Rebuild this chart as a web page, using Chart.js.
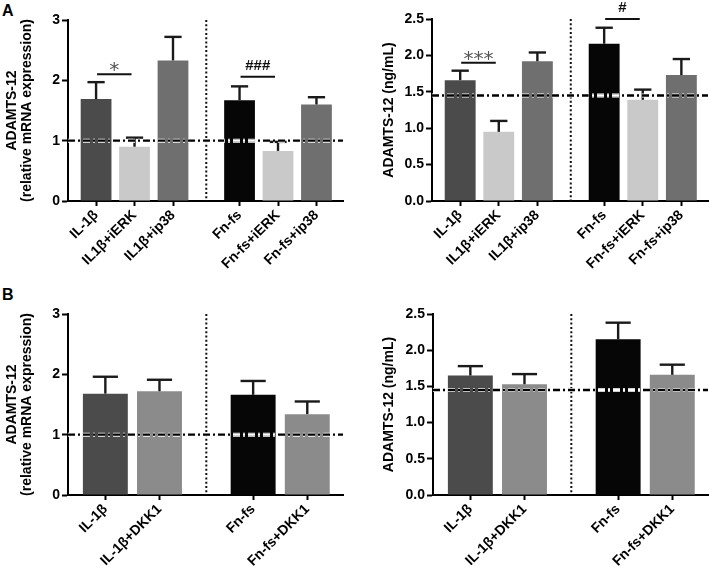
<!DOCTYPE html>
<html>
<head>
<meta charset="utf-8">
<script src="https://cdn.jsdelivr.net/npm/chart.js@4"></script>
<style>
  body { margin: 0; background: #fff; }
  #wrap { position: relative; width: 709px; height: 568px; font-family: 'Liberation Sans', Arial, sans-serif; }
  .panel { position: absolute; }
  .tag { position: absolute; font-weight: bold; font-size: 16px; line-height: 1; }
</style>
</head>
<body>
<div id="wrap">
  <div class="tag" style="left:2px;top:3px">A</div>
  <div class="tag" style="left:2px;top:287px">B</div>
  <canvas id="aMrna" class="panel" style="left:0;top:0" width="350" height="290"></canvas>
  <canvas id="aProtein" class="panel" style="left:350px;top:0" width="359" height="290"></canvas>
  <canvas id="bMrna" class="panel" style="left:0;top:285px" width="350" height="283"></canvas>
  <canvas id="bProtein" class="panel" style="left:350px;top:285px" width="359" height="283"></canvas>
</div>
<script>
// --- data ---
const labelsA = ["IL-1β", "IL1β+iERK", "IL1β+ip38", "Fn-fs", "Fn-fs+iERK", "Fn-fs+ip38"];
const mrnaA = [1.69, 0.90, 2.33, 1.67, 0.83, 1.60];
const mrnaSemA = [0.28, 0.15, 0.39, 0.23, 0.15, 0.12];
const proteinA = [1.66, 0.95, 1.92, 2.16, 1.39, 1.73];
const proteinSemA = [0.13, 0.15, 0.12, 0.22, 0.14, 0.22];

const labelsB = ["IL-1β", "IL-1β+DKK1", "Fn-fs", "Fn-fs+DKK1"];
const mrnaB = [1.68, 1.72, 1.66, 1.34];
const mrnaSemB = [0.28, 0.19, 0.23, 0.21];
const proteinB = [1.65, 1.53, 2.15, 1.66];
const proteinSemB = [0.13, 0.14, 0.23, 0.14];

const mrnaBaseline = 1;
const proteinBaseline = 1.45;

const sigMrnaA = [
  { from: 0, to: 1, y: 2.1, text: "*" },
  { from: 3, to: 4, y: 2.06, text: "###" }
];
const sigProteinA = [
  { from: 0, to: 1, y: 1.9, text: "***" },
  { from: 3, to: 4, y: 2.5, text: "#" }
];

// --- look ---
const DARK = "#4b4b4b", LIGHT = "#c9c9c9", MID = "#6f6f6f", BLACK = "#060606", DKK = "#8b8b8b";
const colorsA = [DARK, LIGHT, MID, BLACK, LIGHT, MID];
const colorsB = [DARK, DKK, BLACK, DKK];
const GROUP_GAP = 0.73;
const FONT = "'Liberation Sans', Arial, sans-serif";
const DASH_DOT = [7, 3, 2, 3];

Chart.defaults.font.family = FONT;
Chart.defaults.color = "#000";

function line(ctx, x1, y1, x2, y2) {
  ctx.beginPath();
  ctx.moveTo(x1, y1);
  ctx.lineTo(x2, y2);
  ctx.stroke();
}

// error bars, reference line, group divider and significance marks
const extras = {
  id: "extras",
  afterDatasetsDraw(chart, args, o) {
    const { ctx, chartArea: a, scales: { x, y } } = chart;
    const bars = chart.getDatasetMeta(0).data;
    ctx.save();
    ctx.lineCap = "butt";

    // dotted divider between the two groups
    const dx = x.getPixelForValue(o.divider);
    ctx.strokeStyle = "#111";
    ctx.lineWidth = 2;
    ctx.setLineDash([2, 2.3]);
    line(ctx, dx, a.top, dx, a.bottom);

    // upper error bars
    ctx.setLineDash([]);
    ctx.strokeStyle = "#1a1a1a";
    ctx.lineWidth = 2.4;
    bars.forEach((b, i) => {
      const top = y.getPixelForValue(o.values[i] + o.sem[i]);
      const half = b.width * 0.28;
      line(ctx, b.x, b.y, b.x, top);
      line(ctx, b.x - half, top, b.x + half, top);
    });

    // dash-dot reference line (white where it crosses the black bars)
    const by = y.getPixelForValue(o.baseline);
    ctx.setLineDash(DASH_DOT);
    ctx.strokeStyle = "#fff";
    ctx.lineWidth = 4;
    line(ctx, a.left, by, a.right, by);
    ctx.strokeStyle = "#000";
    ctx.lineWidth = 2.4;
    line(ctx, a.left, by, a.right, by);
    bars.forEach((b, i) => {
      if (o.colors[i] !== BLACK) return;
      ctx.save();
      ctx.beginPath();
      ctx.rect(b.x - b.width / 2, b.y, b.width, b.base - b.y);
      ctx.clip();
      ctx.strokeStyle = "#fff";
      line(ctx, a.left, by, a.right, by);
      ctx.restore();
    });

    // significance brackets
    ctx.setLineDash([]);
    (o.sig || []).forEach(s => {
      const x1 = bars[s.from].x + 1, x2 = bars[s.to].x - 3;
      const sy = y.getPixelForValue(s.y);
      ctx.strokeStyle = "#111";
      ctx.lineWidth = 2;
      line(ctx, x1, sy, x2, sy);
      ctx.textAlign = "center";
      ctx.textBaseline = "alphabetic";
      if (s.text.startsWith("*")) {
        ctx.fillStyle = "#555";
        ctx.font = "20px 'DejaVu Sans', sans-serif";
        ctx.fillText(s.text, (x1 + x2) / 2, sy + 2);
      } else {
        ctx.fillStyle = "#111";
        ctx.font = "bold 15px " + FONT;
        ctx.fillText(s.text, (x1 + x2) / 2, sy - 7);
      }
    });
    ctx.restore();
  }
};

function drawPanel(id, o) {
  const pos = o.labels.map((_, i) => (i < o.split ? i : i + GROUP_GAP));
  return new Chart(document.getElementById(id), {
    type: "bar",
    data: {
      datasets: [{
        data: o.values.map((v, i) => ({ x: pos[i], y: v })),
        backgroundColor: o.colors,
        borderWidth: 0,
        barPercentage: o.barPct,
        categoryPercentage: 1
      }]
    },
    options: {
      responsive: false,
      animation: false,
      events: [],
      layout: { padding: { top: o.top, right: o.right, left: 0, bottom: 0 } },
      plugins: {
        legend: { display: false },
        tooltip: { enabled: false },
        extras: {
          values: o.values,
          sem: o.sem,
          colors: o.colors,
          baseline: o.baseline,
          divider: (pos[o.split - 1] + pos[o.split]) / 2,
          sig: o.sig
        }
      },
      scales: {
        x: {
          type: "linear",
          min: o.xMin,
          max: o.xMax,
          offset: false,
          afterBuildTicks: s => { s.ticks = pos.map(v => ({ value: v })); },
          afterFit: s => { s.height = o.xHeight; },
          ticks: {
            autoSkip: false,
            minRotation: 45,
            maxRotation: 45,
            padding: 1,
            color: "#000",
            font: { size: 14, weight: "bold" },
            callback: (v, i) => o.labels[i]
          },
          grid: { offset: false, drawOnChartArea: false, tickLength: 5, tickWidth: 2, tickColor: "#000" },
          border: { color: "#000", width: 2 }
        },
        y: {
          min: 0,
          max: o.yMax,
          afterFit: s => { s.width = o.yWidth; },
          ticks: {
            stepSize: o.yStep,
            padding: 2,
            color: "#000",
            font: { size: 14, weight: "bold" },
            callback: v => (o.yStep < 1 ? v.toFixed(1) : v)
          },
          grid: { drawOnChartArea: false, tickLength: 6, tickWidth: 2, tickColor: "#000" },
          border: { color: "#000", width: 2 },
          title: {
            display: true,
            text: o.title,
            color: "#000",
            font: { size: 14, weight: "bold", lineHeight: 1.1 },
            padding: { top: o.titlePad, bottom: 0 }
          }
        }
      }
    },
    plugins: [extras]
  });
}

const mrnaTitle = ["ADAMTS-12", "(relative mRNA expression)"];
const proteinTitle = "ADAMTS-12 (ng/mL)";

drawPanel("aMrna", {
  labels: labelsA, values: mrnaA, sem: mrnaSemA, colors: colorsA, split: 3,
  baseline: mrnaBaseline, sig: sigMrnaA, title: mrnaTitle, titlePad: 4,
  yMax: 3, yStep: 1, xMin: -0.73, xMax: 6.42, barPct: 0.8,
  top: 20, right: 7, yWidth: 68, xHeight: 89
});
drawPanel("aProtein", {
  labels: labelsA, values: proteinA, sem: proteinSemA, colors: colorsA, split: 3,
  baseline: proteinBaseline, sig: sigProteinA, title: proteinTitle, titlePad: 31,
  yMax: 2.5, yStep: 0.5, xMin: -0.73, xMax: 6.42, barPct: 0.8,
  top: 19, right: 1, yWidth: 82, xHeight: 89
});
drawPanel("bMrna", {
  labels: labelsB, values: mrnaB, sem: mrnaSemB, colors: colorsB, split: 2,
  baseline: mrnaBaseline, title: mrnaTitle, titlePad: 4,
  yMax: 3, yStep: 1, xMin: -0.69, xMax: 4.39, barPct: 0.83,
  top: 29, right: 7, yWidth: 68, xHeight: 73
});
drawPanel("bProtein", {
  labels: labelsB, values: proteinB, sem: proteinSemB, colors: colorsB, split: 2,
  baseline: proteinBaseline, title: proteinTitle, titlePad: 31,
  yMax: 2.5, yStep: 0.5, xMin: -0.69, xMax: 4.39, barPct: 0.83,
  top: 29, right: 1, yWidth: 83, xHeight: 73
});
</script>
</body>
</html>
